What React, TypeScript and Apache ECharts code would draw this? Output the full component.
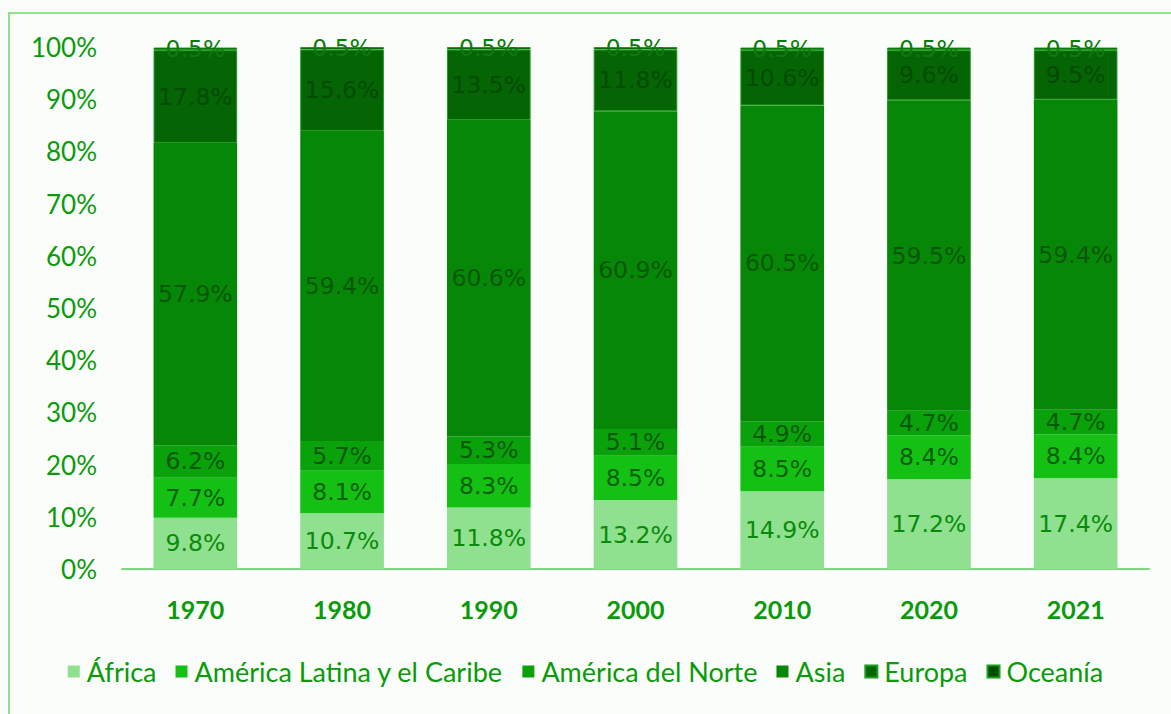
import React, { useEffect, useRef } from "react";
import * as echarts from "echarts";

const years = ["1970", "1980", "1990", "2000", "2010", "2020", "2021"];
const africa = [9.8, 10.7, 11.8, 13.2, 14.9, 17.2, 17.4];
const americaLatina = [7.7, 8.1, 8.3, 8.5, 8.5, 8.4, 8.4];
const americaNorte = [6.2, 5.7, 5.3, 5.1, 4.9, 4.7, 4.7];
const asia = [57.9, 59.4, 60.6, 60.9, 60.5, 59.5, 59.4];
const europa = [17.8, 15.6, 13.5, 11.8, 10.6, 9.6, 9.5];
const oceania = [0.5, 0.5, 0.5, 0.5, 0.5, 0.5, 0.5];

const seriesDefs = [
  { name: "África", data: africa, color: "#8fe08f", label: "#0a8a0a" },
  { name: "América Latina y el Caribe", data: americaLatina, color: "#14c014", label: "#075f07" },
  { name: "América del Norte", data: americaNorte, color: "#0aa20a", label: "#065806" },
  { name: "Asia", data: asia, color: "#078707", label: "#055705" },
  { name: "Europa", data: europa, color: "#056505", label: "#034a03" },
  { name: "Oceanía", data: oceania, color: "#034d03", label: "#0d7a0d" },
];

export default function App() {
  const ref = useRef<HTMLDivElement>(null);
  useEffect(() => {
    document.body.style.margin = "0";
    const chart = echarts.init(ref.current!, null, { renderer: "svg" });
    chart.setOption({
      animation: false,
      backgroundColor: "#fbfdfb",
      graphic: [
        {
          type: "rect",
          shape: { x: 9, y: 13, width: 1200, height: 720 },
          style: { fill: "none", stroke: "#90e090", lineWidth: 2 },
          silent: true,
        },
      ],
      legend: {
        bottom: 24,
        left: "center",
        itemWidth: 12,
        itemHeight: 12,
        itemGap: 19,
        icon: "rect",
        textStyle: { fontFamily: "Lato", fontSize: 27, color: "#0a9a0a", padding: [0, 0, 0, 2] },
        data: seriesDefs.map((s) => s.name),
      },
      grid: { left: 122, right: 22, top: 47, bottom: 145, containLabel: false },
      xAxis: {
        type: "category",
        data: years,
        axisLine: { lineStyle: { color: "#7fd87f", width: 2 } },
        axisTick: { show: false },
        axisLabel: {
          margin: 27,
          fontFamily: "Lato",
          fontSize: 25,
          fontWeight: "bold",
          color: "#0a9a0a",
        },
      },
      yAxis: {
        type: "value",
        min: 0,
        max: 100,
        interval: 10,
        splitLine: { show: false },
        axisLine: { show: false },
        axisTick: { show: false },
        axisLabel: {
          formatter: "{value}%",
          margin: 25,
          fontFamily: "Lato",
          fontSize: 26,
          color: "#0a9a0a",
        },
      },
      series: seriesDefs.map((s) => ({
        name: s.name,
        type: "bar",
        stack: "total",
        barWidth: "57%",
        data: s.data,
        itemStyle: {
          color: s.color,
          borderColor: s.name === "Europa" || s.name === "Oceanía" ? "#1c9c1c" : undefined,
          borderWidth: s.name === "Europa" || s.name === "Oceanía" ? 1 : 0,
        },
        label: {
          show: true,
          position: "inside",
          formatter: (p: any) => p.value.toFixed(1) + "%",
          fontFamily: "DejaVu Sans",
          fontSize: 23.5,
          color: s.label,
        },
      })),
    });
    return () => chart.dispose();
  }, []);
  return <div ref={ref} style={{ width: 1171, height: 714 }} />;
}
